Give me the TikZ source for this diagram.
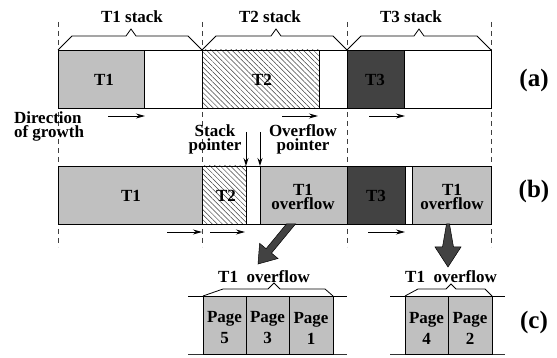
\documentclass[tikz,border=0pt]{standalone}
\usepackage{fontspec}
\setmainfont{Liberation Serif}[BoldFont={Liberation Serif Bold}]
\usetikzlibrary{patterns.meta,arrows.meta}
\definecolor{lgray}{RGB}{192,192,192}
\definecolor{dgray}{RGB}{66,66,66}
\begin{document}
\begin{tikzpicture}[x=1pt,y=-1pt,
  lab/.style={font=\fontsize{17}{14}\selectfont\bfseries, inner sep=0, outer sep=0, align=center},
  plab/.style={font=\fontsize{17}{21}\selectfont\bfseries, inner sep=0, outer sep=0, align=center},
  big/.style={font=\fontsize{25}{28}\selectfont\bfseries, inner sep=0},
  cell/.style={draw, line width=0.8pt, inner sep=0, outer sep=0, anchor=north west, minimum height=58pt},
  hatch/.style={pattern={Lines[angle=-45,distance=3.6pt,line width=0.5pt]}, pattern color=black!75},
  dashline/.style={draw=black!75, line width=0.8pt, dash pattern=on 5pt off 4pt},
  brace/.style={draw, line width=0.8pt, line join=miter},
  sarrow/.style={draw, line width=0.9pt, -{Stealth[length=9pt,width=5pt]}},
  bigarrow/.style={fill=dgray, draw=black, line width=0.5pt}
]
\useasboundingbox (0,0) rectangle (557,358);

% dashed separators
\draw[dashline] (58,22) -- (58,247);
\draw[dashline] (202,22) -- (202,247);
\draw[dashline] (347,22) -- (347,247);
\draw[dashline] (491,22) -- (491,247);

% row (a)
\node[cell, minimum width=433pt, fill=white] (rowa) at (58,50) {};
\node[cell, minimum width=86pt, fill=lgray] (a1) at (58,50) {};
\node[cell, minimum width=117pt, hatch] (a2) at (202,50) {};
\node[cell, minimum width=57pt, fill=dgray] (a3) at (347,50) {};
\node[lab, anchor=base] (ta1) at (104,86) {T1};
\node[lab, anchor=base] (ta2) at (262,86) {T2};
\node[lab, anchor=base] (ta3) at (375,86) {T3};

% braces for stacks
\draw[brace] (a1.north west) -- (72,36) -- (126,36) -- (131,29) -- (136,36) -- (188,36) -- (a2.north west);
\draw[brace] (a2.north west) -- (216,36) -- (271,36) -- (276,29) -- (281,36) -- (333,36) -- (a3.north west);
\draw[brace] (a3.north west) -- (361,36) -- (414,36) -- (419,29) -- (424,36) -- (477,36) -- (rowa.north east);
\node[lab, anchor=base] (s1) at (132,23) {T1 stack};
\node[lab, anchor=base] (s2) at (270,23) {T2 stack};
\node[lab, anchor=base] (s3) at (411,23) {T3 stack};

% growth arrows row (a)
\draw[sarrow] (108,116) -- (145,116);
\draw[sarrow] (282,116) -- (318,116);
\draw[sarrow] (369,116) -- (405,116);

\node[lab, align=left, anchor=north west] (dir) at (14,112) {Direction\\of growth};

% row (b)
\node[cell, minimum width=433pt, fill=white] (rowb) at (58,166) {};
\node[cell, minimum width=144pt, fill=lgray] (b1) at (58,166) {};
\node[cell, minimum width=44pt, hatch] (b2) at (202,166) {};
\node[cell, minimum width=87pt, fill=lgray] (b3) at (260,166) {};
\node[cell, minimum width=58pt, fill=dgray] (b4) at (347,166) {};
\node[cell, minimum width=79pt, fill=lgray] (b5) at (412,166) {};
\node[lab, anchor=base] (tb1) at (131,202) {T1};
\node[lab, anchor=base] (tb2) at (226,202) {T2};
\node[lab] (tb3) at (303,197) {T1\\overflow};
\node[lab, anchor=base] (tb4) at (376,202) {T3};
\node[lab] (tb5) at (452,197) {T1\\overflow};

% pointers
\node[lab, anchor=north] (sp) at (215,125) {Stack\\pointer};
\node[lab, anchor=north] (op) at (303,125) {Overflow\\pointer};
\coordinate (spt) at (246,132);
\coordinate (opt) at (260,132);
\draw[line width=0.9pt, -{Stealth[length=8pt,width=5pt]}] (spt) -- (b2.north east);
\draw[line width=0.9pt, -{Stealth[length=8pt,width=5pt]}] (opt) -- (b3.north west);

% growth arrows row (b)
\draw[sarrow] (167,232) -- (202,232);
\draw[sarrow] (210,232) -- (245,232);
\draw[sarrow] (368,232) -- (405,232);

% big arrows
\filldraw[bigarrow] (286.4,224) -- (295.5,224) -- (271.5,253.1) -- (278,258.5) -- (258,264) -- (259.6,243.3) -- (266.1,248.7) -- cycle;
\filldraw[bigarrow] (446.5,224) -- (449.5,224) -- (453.5,247) -- (461,247) -- (448,267) -- (435,247) -- (442.5,247) -- cycle;

% row (c) left group
\draw[line width=0.8pt] (188,296) -- (347,296);
\draw[line width=1pt, draw=black!80] (188,354) -- (347,354);
\node[cell, minimum width=43pt, fill=lgray] (c1) at (203,296) {};
\node[cell, minimum width=43pt, fill=lgray] (c2) at (246,296) {};
\node[cell, minimum width=44pt, fill=lgray] (c3) at (289,296) {};
\node[plab] (pc1) at ([yshift=-3pt]c1.center) {Page\\5};
\node[plab] (pc2) at ([yshift=-3pt]c2.center) {Page\\3};
\node[plab] (pc3) at ([yshift=-3pt]c3.center) {Page\\1};
\draw[brace] (c1.north west) -- (223,289) -- (268,289) -- (274,283) -- (280,289) -- (325,289) -- (c3.north east);
\node[lab, anchor=base] (oc1) at (264,282) {T1\ \ overflow};

% row (c) right group
\draw[line width=0.8pt] (390,296) -- (505,296);
\draw[line width=1pt, draw=black!80] (390,354) -- (505,354);
\node[cell, minimum width=43pt, fill=lgray] (d1) at (405,296) {};
\node[cell, minimum width=44pt, fill=lgray] (d2) at (448,296) {};
\node[plab] (pd1) at ([yshift=-3pt]d1.center) {Page\\4};
\node[plab] (pd2) at ([yshift=-3pt]d2.center) {Page\\2};
\draw[brace] (d1.north west) -- (418,289) -- (446,289) -- (451,284) -- (456,289) -- (485,289) -- (d2.north east);
\node[lab, anchor=base] (od1) at (451,282) {T1\ \ overflow};

% row labels
\node[big] (la) at (534,80) {(a)};
\node[big] (lb) at (534,191) {(b)};
\node[big] (lc) at (534,322) {(c)};
\end{tikzpicture}
\end{document}
